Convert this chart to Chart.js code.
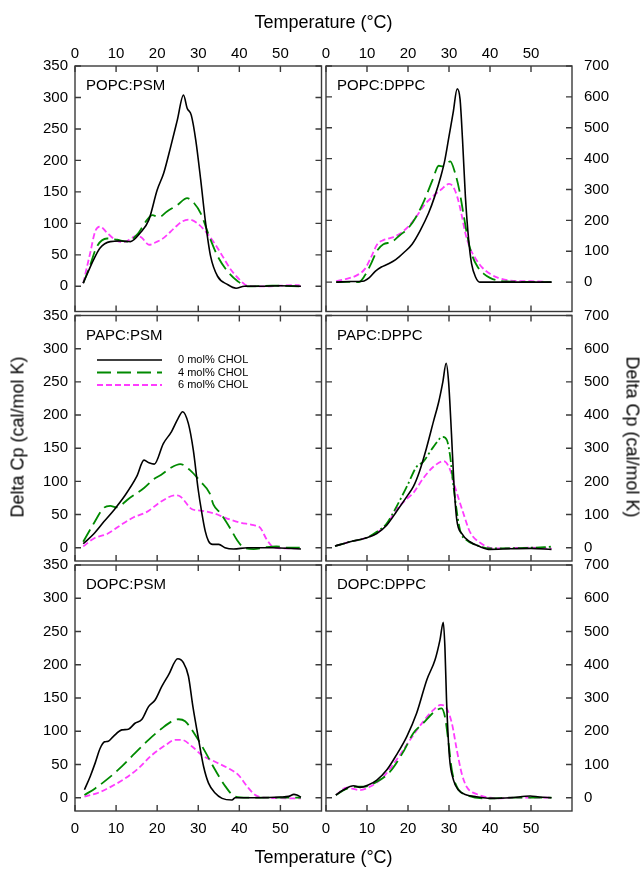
<!DOCTYPE html>
<html>
<head>
<meta charset="utf-8">
<script src="https://cdn.jsdelivr.net/npm/chart.js@4"></script>
<style>
body { margin: 0; background: #fff; font-family: "Liberation Sans", Arial, sans-serif; }
#page { position: relative; width: 643px; height: 871px; overflow: hidden; }
canvas { position: absolute; }
.title { position: absolute; font-size: 18px; color: #000; white-space: nowrap; }
</style>
</head>
<body>
<div id="page">
  <canvas id="c0"></canvas><canvas id="c1"></canvas>
  <canvas id="c2"></canvas><canvas id="c3"></canvas>
  <canvas id="c4"></canvas><canvas id="c5"></canvas>
  <div class="title" style="left:75px;width:497px;text-align:center;top:12px">Temperature (°C)</div>
  <div class="title" style="left:75px;width:497px;text-align:center;top:847px">Temperature (°C)</div>
  <div class="title" style="left:18px;top:437px;transform:translate(-50%,-50%) rotate(-90deg)">Delta Cp (cal/mol K)</div>
  <div class="title" style="left:632px;top:437px;transform:translate(-50%,-50%) rotate(90deg)">Delta Cp (cal/mol K)</div>
</div>
<script>
// tick values
const xTicks = [0, 10, 20, 30, 40, 50];
const psmTicks = [0, 50, 100, 150, 200, 250, 300, 350];
const dppcTicks = [0, 100, 200, 300, 400, 500, 600, 700];
const seriesNames = ['0 mol% CHOL', '4 mol% CHOL', '6 mol% CHOL'];

// [temperature, delta Cp]
const POPC_PSM_0 = [[2,5],[3,20],[4.5,42],[6.1,61],[8.6,71],[11,72],[13.5,71],[15.9,85],[18,106],[20,153],[21.6,180],[23.3,222],[24.9,264],[26.4,304],[27.3,283],[28.3,272],[29.4,232],[30.6,169],[31.8,100],[33,48],[34.7,16],[37.1,3],[39.2,-3],[41.2,0],[45,0],[50,1],[55,0]];
const POPC_PSM_4 = [[2,5],[3.5,30],[5.3,63],[7.8,76],[10.2,74],[12.7,71],[15.1,82],[17.6,106],[18.8,113],[20.4,110],[22.4,119],[24.9,129],[27.3,140],[29,132],[30.6,116],[32.7,79],[34.7,48],[37.1,24],[39.6,8],[42,0],[48,1],[55,0]];
const POPC_PSM_6 = [[2,5],[3.7,53],[4.9,87],[6.1,95],[7.8,85],[9.8,74],[11.8,70],[13.9,77],[15.1,81],[16.3,77],[18,66],[20,71],[21.6,77],[24.1,92],[26.1,103],[27.8,106],[29.8,100],[31.8,87],[33.9,69],[35.9,48],[38,26],[40,11],[42,1],[46,0],[50,1],[53,2],[54.5,2],[55,-3]];

const POPC_DPPC_0 = [[2.5,0],[6,2],[9,3],[10.5,14],[12,35],[13.5,49],[15,58],[17,73],[19,96],[21,123],[23,168],[25,223],[26.5,277],[28,342],[29,396],[30,472],[31,548],[32,626],[32.7,592],[33.3,461],[34,277],[34.8,136],[35.5,60],[36.5,16],[37.5,0],[45,0],[55,0]];
const POPC_DPPC_4 = [[2.5,0],[5,1],[8,0],[9.5,22],[11,60],[12.5,103],[14,123],[16,130],[18,152],[20,174],[22,212],[24,266],[26,331],[27.5,377],[28.5,375],[29.5,385],[30.3,391],[31.5,353],[32.5,299],[33.5,223],[34.5,147],[35.5,92],[37,49],[38.5,27],[40,14],[42,5],[45,2],[55,0]];
const POPC_DPPC_6 = [[2.5,3],[5,11],[7.5,22],[9.5,43],[11,81],[12.5,123],[14,136],[16,144],[18,157],[20,179],[22,212],[24,250],[26,277],[28,299],[30,318],[31,309],[32,277],[33,223],[34,158],[35,114],[36.5,76],[38,49],[40,27],[42,14],[45,5],[50,3],[55,0]];

const PAPC_PSM_0 = [[2,6],[4.6,21],[7,39],[9.5,57],[12.2,79],[15,107],[16.8,132],[18,128],[19.3,126],[21.5,157],[23.5,175],[25.1,195],[26.2,205],[27.6,187],[28.8,147],[30,87],[30.8,55],[31.7,25],[32.5,10],[33.5,5],[35,5],[36.5,0],[38.6,-2],[42,0],[48,0],[55,-2]];
const PAPC_PSM_4 = [[2,9],[4.6,37],[7,60],[8.6,63],[10,61],[13.3,75],[16.8,90],[19.3,104],[21,110],[23.2,120],[25.6,126],[28,117],[30.5,100],[32.8,82],[33.7,65],[35.4,52],[37.8,29],[39.4,12],[41,0.5],[43.5,-2],[46.7,1],[49,2],[52,0],[55,0]];
const PAPC_PSM_6 = [[2,2],[4.6,14],[7.9,21],[11.1,34],[14.3,46],[17.5,54],[20.8,69],[24.5,79],[25.7,77],[28.5,58],[30.5,56],[33.7,52],[37,44],[40.2,38],[43.5,34],[45.1,30],[46.7,12],[48.4,0.5],[51.6,-1],[55,-1]];

const PAPC_DPPC_0 = [[2.2,5],[5.9,18],[9.9,30],[12.4,43],[14.8,68],[17.2,109],[19.7,154],[21.3,184],[22.8,230],[24.5,300],[26.2,380],[27.5,440],[28.5,500],[29.3,556],[29.9,500],[30.6,344],[31.2,194],[31.9,84],[33.1,43],[35.1,18],[37.6,3],[40,-5],[45,-3],[50,-2],[55,-5]];
const PAPC_DPPC_4 = [[2.2,5],[5.9,18],[9.9,30],[12.4,48],[14.8,73],[17.2,124],[19.7,184],[22.1,244],[23.7,259],[26.2,304],[28.5,334],[29.5,324],[30.3,274],[31.1,184],[32.7,53],[34.3,23],[36.7,8],[40,-2],[50,0],[55,3]];
const PAPC_DPPC_6 = [[2.2,5],[5.9,18],[9.9,30],[12.4,45],[14.8,70],[17.2,116],[19.7,147],[21.3,165],[23.7,209],[26.2,244],[28.7,261],[30.3,234],[31.3,190],[32.3,150],[33.5,104],[35.1,48],[37.6,15],[40.8,-2],[50,0],[55,-3]];

const DOPC_PSM_0 = [[2.3,12],[3.7,32],[4.9,52],[6.1,74],[7.2,84],[8.1,85],[9.3,92],[11.4,102],[13,103],[14.6,112],[16.3,118],[17.9,137],[19.5,147],[21.1,167],[22.8,185],[25,209],[26.4,203],[27.6,183],[28.7,137],[30.1,87],[31.3,47],[32.5,22],[34.1,7],[35.8,-1],[38.2,-3.5],[39,0],[45,0],[50,1],[52,2],[53.3,5],[54,4],[55,1]];
const DOPC_PSM_4 = [[2.3,4],[4.9,14],[8.1,29],[11.4,47],[14.6,67],[17.9,87],[21.1,104],[23.6,115],[25.2,118],[26.8,115],[29.3,94],[31.7,69],[34.1,42],[36.6,17],[39,1.5],[42,0],[55,0]];
const DOPC_PSM_6 = [[2.3,1.5],[5.7,7.5],[8.9,17],[12.2,29],[15.4,44],[18.7,64],[22,79],[24.4,87],[26,87],[28.5,77],[30.9,64],[34.1,54],[37.4,44],[39.8,34],[41.9,17],[43.9,4],[46.3,0],[55,-1]];

const DOPC_DPPC_0 = [[2.4,8],[4.2,23],[6.7,36],[8.3,31],[10.3,38],[12.4,53],[14.8,83],[17.2,129],[19.7,184],[22.1,254],[24.6,355],[26.6,415],[27.8,475],[28.6,528],[29,454],[29.4,294],[30.1,124],[31.1,53],[32.3,23],[34.3,8],[36.7,3],[40,-2],[45,0],[49.8,5],[52,2],[55,0]];
const DOPC_DPPC_4 = [[2.4,8],[4.2,22],[6.7,33],[9.1,33],[12.4,48],[15.6,78],[18.9,139],[21.3,194],[23.7,224],[26.2,256],[28.2,269],[29,244],[29.8,174],[30.7,83],[31.9,33],[34.3,8],[40,-2],[45,0],[55,0]];
const DOPC_DPPC_6 = [[2.4,8],[5,30],[8.3,23],[10.7,33],[14,63],[17.2,114],[20.5,174],[23.7,229],[26.2,264],[28,279],[29.4,269],[30.7,224],[31.9,144],[33.1,73],[34.3,33],[36.7,11],[40,0],[42,-2],[45,0],[55,0]];

const panels = [
  { name: 'POPC:PSM',  series: [POPC_PSM_0, POPC_PSM_4, POPC_PSM_6],    row: 0, col: 0, ymin: -40, ymax: 350 },
  { name: 'POPC:DPPC', series: [POPC_DPPC_0, POPC_DPPC_4, POPC_DPPC_6], row: 0, col: 1, ymin: -95, ymax: 700 },
  { name: 'PAPC:PSM',  series: [PAPC_PSM_0, PAPC_PSM_4, PAPC_PSM_6],    row: 1, col: 0, ymin: -20, ymax: 350, legend: true },
  { name: 'PAPC:DPPC', series: [PAPC_DPPC_0, PAPC_DPPC_4, PAPC_DPPC_6], row: 1, col: 1, ymin: -40, ymax: 700, dashDot: true },
  { name: 'DOPC:PSM',  series: [DOPC_PSM_0, DOPC_PSM_4, DOPC_PSM_6],    row: 2, col: 0, ymin: -20, ymax: 350 },
  { name: 'DOPC:DPPC', series: [DOPC_DPPC_0, DOPC_DPPC_4, DOPC_DPPC_6], row: 2, col: 1, ymin: -40, ymax: 700 }
];

// grid layout: canvases overlap a bit so the padding wins over label overhang
const cols = [
  { left: 0, width: 347, padL: 0, padR: 25.5, ypos: 'left', yw: 75, ypad: 7 },
  { left: 301, width: 342, padL: 25, padR: 0, ypos: 'right', yw: 71, ypad: 12 }
];
const rows = [
  { top: 0, height: 337, padT: 0, padB: 25.5, xpos: 'top', xh: 66 },
  { top: 290, height: 296, padT: 25.5, padB: 25, xpos: 'bottom', xh: 0 },
  { top: 540, height: 331, padT: 25, padB: 0, xpos: 'bottom', xh: 60 }
];

const lineStyles = [
  { color: '#000000', width: 1.6, dash: [] },
  { color: '#008a00', width: 1.8, dash: [14, 6] },
  { color: '#ff3cff', width: 1.8, dash: [6, 3] }
];

const FONT = '"Liberation Sans", Arial, sans-serif';

const framePlugin = {
  id: 'frame',
  afterDatasetsDraw(chart, args, opts) {
    const ctx = chart.ctx;
    const a = chart.chartArea;
    const xs = chart.scales.x, ys = chart.scales.y;
    ctx.save();
    ctx.setLineDash([]);
    ctx.strokeStyle = '#3a3a3a';
    ctx.lineWidth = 1.4;
    ctx.strokeRect(a.left, a.top, a.right - a.left, a.bottom - a.top);
    ctx.beginPath();
    xs.ticks.forEach(t => {
      const p = xs.getPixelForValue(t.value);
      ctx.moveTo(p, a.top); ctx.lineTo(p, a.top + 6);
      ctx.moveTo(p, a.bottom); ctx.lineTo(p, a.bottom - 6);
    });
    ys.ticks.forEach(t => {
      const p = ys.getPixelForValue(t.value);
      ctx.moveTo(a.left, p); ctx.lineTo(a.left + 6, p);
      ctx.moveTo(a.right, p); ctx.lineTo(a.right - 6, p);
    });
    ctx.stroke();

    ctx.fillStyle = '#000';
    ctx.font = '15px ' + FONT;
    ctx.textBaseline = 'middle';
    ctx.fillText(opts.label, a.left + 11, a.top + 20);

    if (opts.legend) {
      ctx.font = '11px ' + FONT;
      chart.data.datasets.forEach((ds, i) => {
        const y = a.top + 44.5 + i * 12.5;
        ctx.strokeStyle = ds.borderColor;
        ctx.lineWidth = ds.borderWidth;
        ctx.setLineDash(ds.borderDash);
        ctx.beginPath();
        ctx.moveTo(a.left + 22, y); ctx.lineTo(a.left + 87, y);
        ctx.stroke();
        ctx.fillText(ds.label, a.left + 103, y);
      });
    }
    ctx.restore();
  }
};

panels.forEach((p, idx) => {
  const c = cols[p.col], r = rows[p.row];
  const canvas = document.getElementById('c' + idx);
  canvas.width = c.width; canvas.height = r.height;
  canvas.style.left = c.left + 'px'; canvas.style.top = r.top + 'px';

  const datasets = p.series.map((s, i) => {
    const st = lineStyles[i];
    return {
      label: seriesNames[i],
      data: s.map(d => ({ x: d[0], y: d[1] })),
      borderColor: st.color,
      borderWidth: st.width,
      borderDash: (i === 1 && p.dashDot) ? [10, 3, 2, 3] : st.dash,
      pointRadius: 0,
      fill: false,
      tension: 0.4,
      cubicInterpolationMode: 'monotone'
    };
  });

  const yTicks = p.col === 0 ? psmTicks : dppcTicks;

  new Chart(canvas, {
    type: 'line',
    data: { datasets: datasets },
    options: {
      responsive: false,
      animation: false,
      devicePixelRatio: 1,
      events: [],
      layout: { padding: { left: c.padL, right: c.padR, top: r.padT, bottom: r.padB } },
      plugins: {
        legend: { display: false },
        tooltip: { enabled: false },
        frame: { label: p.name, legend: !!p.legend }
      },
      scales: {
        x: {
          type: 'linear',
          position: r.xpos,
          min: 0, max: 60,
          grid: { display: false, drawTicks: false },
          border: { display: false },
          ticks: {
            display: r.xh > 0,
            color: '#000',
            padding: r.xpos === 'top' ? 3 : 9,
            maxRotation: 0,
            font: { family: FONT, size: 15 }
          },
          afterBuildTicks: s => { s.ticks = xTicks.map(v => ({ value: v })); },
          afterFit: s => { s.height = r.xh; }
        },
        y: {
          type: 'linear',
          position: c.ypos,
          min: p.ymin, max: p.ymax,
          grid: { display: false, drawTicks: false },
          border: { display: false },
          ticks: {
            color: '#000',
            padding: c.ypad,
            font: { family: FONT, size: 15 }
          },
          afterBuildTicks: s => { s.ticks = yTicks.map(v => ({ value: v })); },
          afterFit: s => { s.width = c.yw; }
        }
      }
    },
    plugins: [framePlugin]
  });
});
</script>
</body>
</html>
